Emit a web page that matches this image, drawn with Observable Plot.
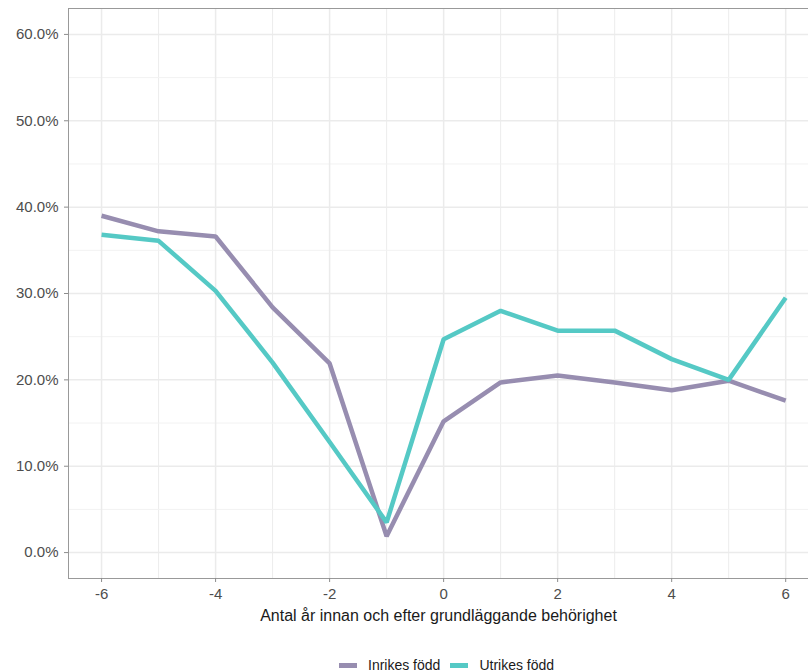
<!DOCTYPE html>
<html>
<head>
<meta charset="utf-8">
<script src="https://cdn.jsdelivr.net/npm/d3@7"></script>
<script src="https://cdn.jsdelivr.net/npm/@observablehq/plot@0.6"></script>
<style>
  html, body { margin: 0; padding: 0; background: #fff; }
  body { width: 808px; height: 672px; position: relative; font-family: "Liberation Sans", Arial, sans-serif; }
  #legend { position: absolute; left: 339px; top: 658px; height: 14px; display: flex; align-items: center; font-size: 14px; color: #1a1a1a; line-height: 14px; }
  .item { display: flex; align-items: center; margin-right: 10px; }
  .sw { width: 18px; height: 5px; display: inline-block; margin-right: 11px; }
</style>
</head>
<body>
<div id="chart"></div>
<div id="legend"></div>
<script>
const years = [-6, -5, -4, -3, -2, -1, 0, 1, 2, 3, 4, 5, 6];
const inrikes = [39.0, 37.2, 36.6, 28.4, 21.9, 1.9, 15.2, 19.7, 20.5, 19.7, 18.8, 19.9, 17.6];
const utrikes = [36.8, 36.1, 30.3, 22.0, 12.8, 3.5, 24.7, 28.0, 25.7, 25.7, 22.4, 20.0, 29.5];
const seriesNames = ["Inrikes född", "Utrikes född"];
const seriesColors = ["#978db0", "#55c9c5"];
const xTicks = [-6, -4, -2, 0, 2, 4, 6];
const xMinor = [-5, -3, -1, 1, 3, 5];
const yTicks = [0, 0.1, 0.2, 0.3, 0.4, 0.5, 0.6];
const yMinor = [0.05, 0.15, 0.25, 0.35, 0.45, 0.55];
const xTitle = "Antal år innan och efter grundläggande behörighet";

const data = [];
years.forEach((y, i) => {
  data.push({year: y, value: inrikes[i] / 100, group: seriesNames[0]});
  data.push({year: y, value: utrikes[i] / 100, group: seriesNames[1]});
});

const chart = Plot.plot({
  width: 808,
  height: 632,
  marginLeft: 68,
  marginRight: 0,
  marginTop: 8,
  marginBottom: 54,
  style: {fontFamily: "Liberation Sans, Arial, sans-serif", fontSize: "15px", color: "#4d4d4d", background: "#fff"},
  x: {domain: [-6.58, 6.4]},
  y: {domain: [-0.03, 0.63]},
  color: {domain: seriesNames, range: seriesColors},
  marks: [
    Plot.ruleX(xMinor, {stroke: "#ececec", strokeWidth: 1}),
    Plot.ruleY(yMinor, {stroke: "#f2f2f2", strokeWidth: 1}),
    Plot.ruleX(xTicks, {stroke: "#ebebeb", strokeWidth: 1.5}),
    Plot.ruleY(yTicks, {stroke: "#ebebeb", strokeWidth: 1.5}),
    Plot.frame({stroke: "#999", strokeWidth: 1}),
    Plot.axisX({ticks: xTicks, tickSize: 4, tickPadding: 6, label: null, tickFormat: d => String(d), stroke: "#8c8c8c", fill: "#4d4d4d", fontSize: 15}),
    Plot.axisY({ticks: yTicks, tickSize: 4, tickPadding: 6, label: null, tickFormat: d => (d * 100).toFixed(1) + "%", stroke: "#8c8c8c", fill: "#4d4d4d", fontSize: 15}),
    Plot.text([xTitle], {frameAnchor: "bottom", dy: 42, fill: "#1a1a1a", fontSize: 16, text: d => d}),
    Plot.line(data, {x: "year", y: "value", z: "group", stroke: "group", strokeWidth: 4.5, strokeLinejoin: "miter", strokeLinecap: "butt"})
  ]
});
document.getElementById("chart").appendChild(chart);

d3.select(chart).selectAll("text").each(function () {
  this.style.fontSize = (this.textContent === xTitle) ? "16px" : "15px";
});

const legend = document.getElementById("legend");
seriesNames.forEach((n, i) => {
  const it = document.createElement("span");
  it.className = "item";
  it.innerHTML = `<span class="sw" style="background:${seriesColors[i]}"></span><span>${n}</span>`;
  legend.appendChild(it);
});
</script>
</body>
</html>
